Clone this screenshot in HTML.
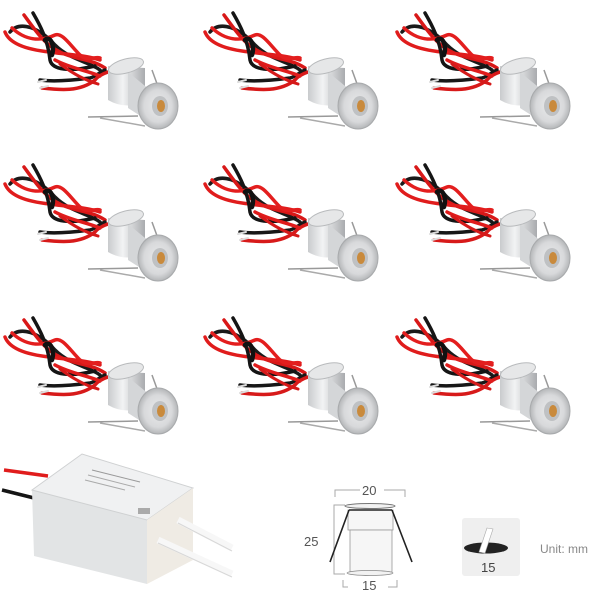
<!DOCTYPE html>
<html><head><meta charset="utf-8"><style>
html,body{margin:0;padding:0;background:#fff;}
svg{display:block;}
</style></head><body>
<svg width="600" height="600" viewBox="0 0 600 600" xmlns="http://www.w3.org/2000/svg">
<defs>
<linearGradient id="metal" x1="0" y1="0" x2="1" y2="0">
<stop offset="0" stop-color="#c9cbcd"/><stop offset="0.4" stop-color="#f2f3f4"/><stop offset="1" stop-color="#a9abae"/>
</linearGradient>
<radialGradient id="flange" cx="0.5" cy="0.5" r="0.5">
<stop offset="0" stop-color="#e9eaeb"/><stop offset="0.7" stop-color="#d8d9db"/><stop offset="1" stop-color="#b4b6b8"/>
</radialGradient>
<g id="unit">
<g fill="none" stroke-linecap="round">
<path d="M10 32 C20 20 40 28 55 45 C70 60 90 62 100 70" stroke="#1a1a1a" stroke-width="3.5"/>
<path d="M24 15 C35 30 45 45 60 52 C75 60 90 58 105 68" stroke="#d81818" stroke-width="3.5"/>
<path d="M5 32 C10 45 30 50 50 52 C70 55 85 55 100 60" stroke="#e01c1c" stroke-width="3.5"/>
<path d="M33 13 C40 25 48 40 50 60 C52 70 70 72 95 66" stroke="#151515" stroke-width="3.5"/>
<path d="M12 28 C25 40 40 42 55 35 C62 32 70 45 80 55 C88 62 95 56 100 58" stroke="#e31e1e" stroke-width="3.5"/>
<path d="M40 80 C55 82 75 80 90 78 C95 77 100 72 105 70" stroke="#171717" stroke-width="3.5"/>
<path d="M42 88 C60 90 80 92 95 80 C98 76 102 74 108 72" stroke="#d71a1a" stroke-width="3.5"/>
<path d="M55 60 C70 68 85 70 100 76" stroke="#e01c1c" stroke-width="3.5"/>
<path d="M60 64 C75 75 85 80 98 84" stroke="#d51a1a" stroke-width="3"/>
<path d="M45 40 C50 35 55 45 52 55" stroke="#111" stroke-width="4.5"/>
<path d="M40 88 L48 86 M38 82 L46 80" stroke="#ddd" stroke-width="2"/>
</g>
<line x1="152" y1="70" x2="160" y2="92" stroke="#999" stroke-width="1.5"/>
<path d="M108 66 L108 100 Q125 110 145 102 L145 68 Z" fill="url(#metal)"/>
<path d="M128 72 L150 90 L150 122 L128 108 Z" fill="#d4d6d8"/>
<ellipse cx="126" cy="66" rx="18" ry="7" transform="rotate(-15 126 66)" fill="#e6e7e8" stroke="#b8babc" stroke-width="1"/>
<ellipse cx="158" cy="106" rx="20" ry="23" fill="url(#flange)" stroke="#a8aaac" stroke-width="1"/>
<ellipse cx="160" cy="106" rx="8" ry="10" fill="#bfc1c3"/>
<ellipse cx="161" cy="106" rx="4" ry="6" fill="#c98a3c"/>
<line x1="88" y1="117" x2="138" y2="116" stroke="#999" stroke-width="1.5"/>
<line x1="100" y1="118" x2="145" y2="126" stroke="#aaa" stroke-width="1.5"/>
</g>
</defs>
<use href="#unit" x="0" y="0"/>
<use href="#unit" x="200" y="0"/>
<use href="#unit" x="392" y="0"/>
<use href="#unit" x="0" y="152"/>
<use href="#unit" x="200" y="152"/>
<use href="#unit" x="392" y="152"/>
<use href="#unit" x="0" y="305"/>
<use href="#unit" x="200" y="305"/>
<use href="#unit" x="392" y="305"/>

<!-- driver -->
<path d="M4 470 L48 476" stroke="#e01c1c" stroke-width="3.5" fill="none"/>
<path d="M2 490 L34 498" stroke="#151515" stroke-width="3.5" fill="none"/>
<polygon points="32,490 147,520 147,584 34,556" fill="#e2e4e5"/>
<polygon points="32,490 82,454 193,488 147,520" fill="#f0f1f2" stroke="#cfd1d2" stroke-width="1"/>
<polygon points="147,520 193,488 193,560 147,584" fill="#efebe4"/>
<path d="M158 540 L232 574" stroke="#f7f7f7" stroke-width="7"/>
<path d="M158 543 L232 577" stroke="#d8d8d8" stroke-width="1"/>
<path d="M178 520 L232 548" stroke="#f7f7f7" stroke-width="7"/>
<path d="M178 523 L232 551" stroke="#d8d8d8" stroke-width="1"/>
<g>
<rect x="58" y="478" width="10" height="8" fill="#aaa" transform="skewX(-20)"/>
<line x1="92" y1="470" x2="140" y2="482" stroke="#999" stroke-width="1"/>
<line x1="88" y1="475" x2="135" y2="487" stroke="#aaa" stroke-width="1"/>
<line x1="85" y1="480" x2="125" y2="490" stroke="#aaa" stroke-width="1"/>
<rect x="138" y="508" width="12" height="6" fill="#aaa"/>
</g>

<!-- dimension drawing -->
<g stroke="#aaa" stroke-width="1" fill="none">
<path d="M335 497 V490 H360 M384 490 H405 V497"/>
<path d="M345 505 H334 V574 H345"/>
<path d="M343 580 V587 H348 M388 587 H397 V580"/>
</g>
<ellipse cx="370" cy="506" rx="25" ry="2.5" fill="#f2f2f2" stroke="#777" stroke-width="1"/>
<rect x="348" y="510" width="45" height="20" fill="#f6f6f6" stroke="#999" stroke-width="0.8"/>
<rect x="350" y="530" width="42" height="42" fill="#f6f6f6" stroke="#999" stroke-width="0.8"/>
<ellipse cx="370" cy="573" rx="23" ry="2.5" fill="#f2f2f2" stroke="#888" stroke-width="0.8"/>
<path d="M349 510 L330 562 M392 510 L412 562 M349 510 H392" stroke="#222" stroke-width="1.6" fill="none"/>
<g font-family="Liberation Sans, sans-serif" fill="#555" font-size="13">
<text x="362" y="495">20</text>
<text x="304" y="546">25</text>
<text x="362" y="590">15</text>
</g>
<rect x="462" y="518" width="58" height="58" rx="3" fill="#efefef"/>
<ellipse cx="486" cy="548" rx="22" ry="5.5" fill="#222"/>
<polygon points="487,528 493,529 485,553 479,552" fill="#fff" stroke="#aaa" stroke-width="0.6"/>
<text x="481" y="572" font-family="Liberation Sans, sans-serif" font-size="13" fill="#444">15</text>
<text x="540" y="553" font-family="Liberation Sans, sans-serif" font-size="12" fill="#888">Unit: mm</text>
</svg>
</body></html>
